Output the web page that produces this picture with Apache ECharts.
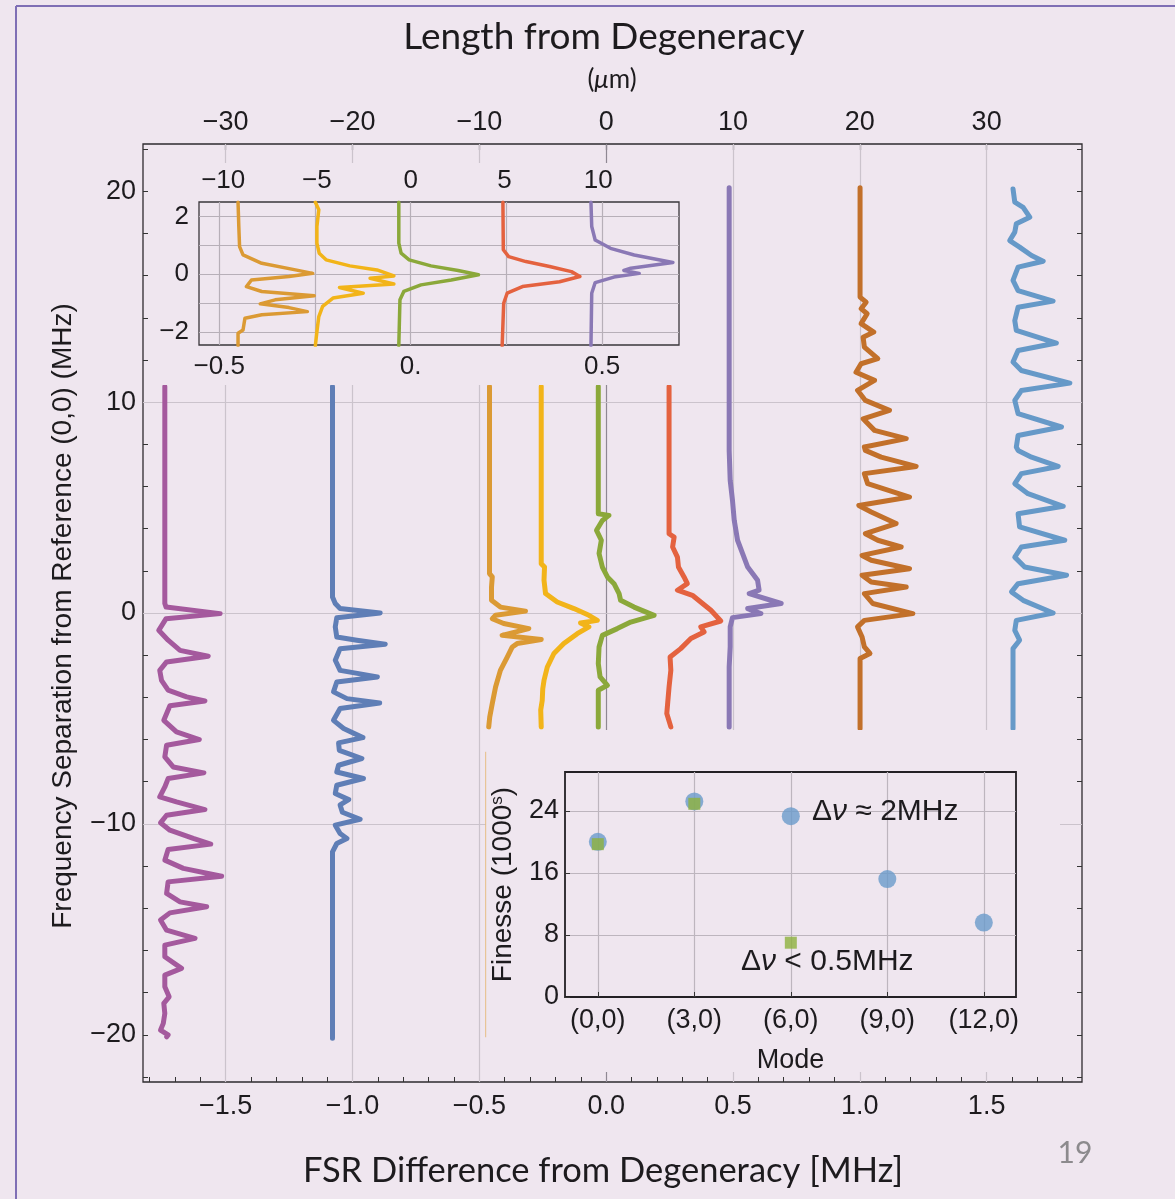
<!DOCTYPE html>
<html>
<head>
<meta charset="utf-8">
<script src="https://cdn.jsdelivr.net/npm/echarts@6/dist/echarts.min.js"></script>
<style>
  html, body { margin: 0; padding: 0; background: #efe6ef; }
  #chart { width: 1175px; height: 1199px; }
</style>
</head>
<body>
<div id="chart"></div>
<script>
// ---- data ----
// main panel traces: [FSR difference (MHz), frequency separation (MHz)]
var magentaTrace = [[-1.740,10.74],[-1.740,0.45],[-1.735,0.28],[-1.522,-0.03],[-1.735,-0.27],[-1.764,-0.82],[-1.727,-1.29],[-1.680,-1.77],[-1.569,-2.05],[-1.733,-2.32],[-1.760,-2.72],[-1.753,-3.19],[-1.727,-3.66],[-1.654,-3.98],[-1.582,-4.17],[-1.720,-4.40],[-1.744,-5.09],[-1.694,-5.64],[-1.604,-6.00],[-1.733,-6.27],[-1.740,-6.82],[-1.707,-7.30],[-1.586,-7.58],[-1.727,-7.85],[-1.740,-8.25],[-1.760,-8.72],[-1.694,-8.96],[-1.582,-9.32],[-1.733,-9.59],[-1.757,-9.95],[-1.720,-10.30],[-1.628,-10.69],[-1.559,-10.96],[-1.727,-11.21],[-1.740,-11.72],[-1.667,-12.11],[-1.516,-12.48],[-1.727,-12.75],[-1.733,-13.30],[-1.680,-13.70],[-1.575,-13.93],[-1.720,-14.22],[-1.757,-14.56],[-1.733,-15.04],[-1.621,-15.43],[-1.740,-15.75],[-1.740,-16.30],[-1.674,-16.85],[-1.740,-17.17],[-1.740,-17.72],[-1.723,-18.20],[-1.744,-18.51],[-1.740,-18.99],[-1.746,-19.46],[-1.757,-19.78],[-1.727,-20.01],[-1.733,-20.10]];
var blueTrace = [[-1.079,10.74],[-1.079,0.76],[-1.068,0.45],[-1.049,0.21],[-0.891,0.00],[-1.062,-0.22],[-1.068,-0.66],[-1.062,-1.14],[-0.983,-1.29],[-0.871,-1.48],[-1.049,-1.69],[-1.068,-2.24],[-1.049,-2.72],[-0.902,-3.03],[-1.062,-3.27],[-1.075,-3.74],[-1.022,-4.06],[-0.893,-4.27],[-1.049,-4.53],[-1.075,-5.09],[-1.035,-5.48],[-0.959,-5.91],[-1.055,-6.16],[-1.052,-6.51],[-0.963,-6.90],[-1.055,-7.22],[-1.062,-7.54],[-0.957,-7.85],[-1.062,-8.17],[-1.068,-8.56],[-1.015,-8.85],[-1.049,-9.10],[-1.040,-9.45],[-0.970,-9.78],[-1.068,-10.06],[-1.049,-10.46],[-1.022,-10.69],[-1.062,-10.93],[-1.079,-11.33],[-1.079,-20.17]];
var orangeTrace = [[-0.460,10.74],[-0.460,1.87],[-0.449,1.71],[-0.452,1.23],[-0.452,0.60],[-0.417,0.28],[-0.318,0.09],[-0.436,-0.11],[-0.449,-0.27],[-0.404,-0.50],[-0.305,-0.74],[-0.410,-1.06],[-0.256,-1.26],[-0.351,-1.45],[-0.370,-1.61],[-0.390,-2.09],[-0.417,-2.72],[-0.436,-3.51],[-0.449,-4.29],[-0.459,-4.93],[-0.463,-5.40]];
var yellowTrace = [[-0.256,10.74],[-0.256,2.34],[-0.243,2.18],[-0.245,1.55],[-0.239,0.92],[-0.193,0.52],[-0.127,0.21],[-0.068,-0.11],[-0.035,-0.35],[-0.101,-0.47],[-0.068,-0.66],[-0.114,-0.98],[-0.167,-1.45],[-0.206,-1.92],[-0.232,-2.56],[-0.245,-3.19],[-0.250,-3.60],[-0.252,-4.14],[-0.258,-4.60],[-0.256,-5.40]];
var greenTrace = [[-0.031,10.74],[-0.031,4.71],[0.011,4.63],[-0.015,4.39],[-0.038,3.92],[-0.019,3.45],[-0.028,2.82],[-0.015,2.18],[0.005,1.71],[0.031,1.39],[0.051,0.92],[0.057,0.60],[0.110,0.28],[0.189,-0.11],[0.097,-0.43],[0.044,-0.74],[-0.015,-1.06],[-0.028,-1.61],[-0.031,-2.40],[-0.024,-3.03],[0.005,-3.43],[-0.031,-3.66],[-0.031,-5.40]];
var redTrace = [[0.248,10.74],[0.248,3.76],[0.268,3.60],[0.262,3.13],[0.281,2.65],[0.285,2.18],[0.307,1.71],[0.320,1.39],[0.281,1.08],[0.340,0.84],[0.380,0.45],[0.413,0.13],[0.452,-0.38],[0.373,-0.66],[0.386,-0.90],[0.334,-1.21],[0.294,-1.69],[0.252,-2.09],[0.255,-2.72],[0.248,-3.51],[0.239,-4.77],[0.255,-5.40]];
var violetTrace = [[0.485,20.16],[0.485,7.70],[0.489,6.29],[0.498,5.34],[0.505,4.39],[0.518,3.45],[0.538,2.82],[0.558,2.18],[0.597,1.55],[0.603,1.08],[0.564,0.92],[0.690,0.45],[0.558,0.21],[0.610,-0.03],[0.498,-0.22],[0.489,-0.66],[0.489,-1.61],[0.485,-2.56],[0.485,-5.40]];
var brownTrace = [[1.001,20.16],[1.001,14.98],[1.025,14.74],[1.005,14.43],[1.029,14.19],[1.005,13.72],[1.055,13.32],[1.013,13.08],[1.018,12.61],[1.071,12.06],[1.005,11.82],[0.985,11.42],[1.058,11.03],[0.991,10.56],[1.022,10.08],[1.117,9.61],[1.013,9.21],[1.058,8.66],[1.183,8.27],[1.018,7.87],[1.022,7.71],[1.084,7.39],[1.222,6.95],[1.018,6.61],[1.031,6.13],[1.196,5.50],[0.996,5.10],[1.045,4.79],[1.143,4.24],[1.022,3.76],[1.071,3.45],[1.163,3.13],[1.009,2.73],[1.045,2.50],[1.196,2.10],[1.009,1.79],[1.045,1.47],[1.183,1.23],[1.018,0.92],[1.051,0.45],[1.209,-0.03],[1.018,-0.35],[0.991,-0.66],[1.009,-1.14],[1.018,-1.61],[1.040,-1.92],[1.001,-2.16],[1.001,-5.48]];
var skyTrace = [[1.604,20.11],[1.611,19.48],[1.644,19.24],[1.670,18.77],[1.617,18.46],[1.611,18.06],[1.591,17.66],[1.630,17.35],[1.677,16.95],[1.723,16.68],[1.624,16.40],[1.604,15.77],[1.624,15.29],[1.762,14.79],[1.624,14.50],[1.611,13.87],[1.617,13.40],[1.775,12.80],[1.624,12.45],[1.604,11.90],[1.637,11.50],[1.828,10.90],[1.637,10.55],[1.611,10.08],[1.624,9.45],[1.795,8.82],[1.624,8.42],[1.617,7.87],[1.624,7.71],[1.677,7.39],[1.782,6.95],[1.637,6.61],[1.611,6.13],[1.663,5.66],[1.802,5.06],[1.624,4.71],[1.630,4.08],[1.808,3.45],[1.637,3.13],[1.611,2.65],[1.650,2.18],[1.815,1.79],[1.624,1.39],[1.598,1.00],[1.644,0.60],[1.762,0.00],[1.617,-0.35],[1.611,-0.82],[1.630,-1.29],[1.604,-1.69],[1.604,-5.48]];
var orangeEdge = [[-0.475,-6.6],[-0.475,-20.1]];

// zoomed inset traces
var insetOrange = [[-0.451,2.50],[-0.449,1.66],[-0.447,0.96],[-0.438,0.67],[-0.389,0.38],[-0.301,0.15],[-0.256,0.03],[-0.318,-0.08],[-0.416,-0.20],[-0.429,-0.43],[-0.389,-0.60],[-0.252,-0.75],[-0.354,-0.89],[-0.393,-1.03],[-0.318,-1.16],[-0.270,-1.30],[-0.389,-1.41],[-0.433,-1.53],[-0.438,-1.94],[-0.451,-2.05],[-0.451,-2.48]];
var insetYellow = [[-0.249,2.50],[-0.240,2.24],[-0.245,1.66],[-0.245,1.08],[-0.239,0.73],[-0.221,0.50],[-0.159,0.29],[-0.088,0.15],[-0.044,-0.06],[-0.106,-0.14],[-0.044,-0.34],[-0.186,-0.46],[-0.124,-0.66],[-0.203,-0.83],[-0.230,-1.12],[-0.240,-1.47],[-0.245,-2.00],[-0.249,-2.48]];
var insetGreen = [[-0.031,2.50],[-0.031,1.08],[-0.025,0.73],[-0.004,0.50],[0.053,0.29],[0.124,0.13],[0.177,-0.02],[0.106,-0.20],[0.027,-0.37],[-0.018,-0.60],[-0.028,-0.89],[-0.031,-2.48]];
var insetRed = [[0.241,2.50],[0.242,0.85],[0.256,0.61],[0.301,0.44],[0.363,0.27],[0.420,0.09],[0.442,-0.08],[0.389,-0.26],[0.292,-0.43],[0.252,-0.66],[0.243,-1.01],[0.239,-2.48]];
var insetViolet = [[0.471,2.50],[0.473,1.66],[0.482,1.19],[0.522,0.90],[0.584,0.67],[0.685,0.41],[0.575,0.21],[0.557,0.13],[0.597,0.03],[0.531,-0.10],[0.482,-0.29],[0.473,-0.66],[0.471,-2.48]];

// finesse inset
var modeValues = [0, 3, 6, 9, 12];
var modeLabels = ['(0,0)', '(3,0)', '(6,0)', '(9,0)', '(12,0)'];
var finesseWide = [20.0, 25.2, 23.3, 15.2, 9.6];
var narrowModes = [0, 3, 6];
var finesseNarrow = [19.7, 24.9, 7.0];

// ticks and grid lines
var mainXTicks = [-1.5, -1, -0.5, 0, 0.5, 1, 1.5];
var mainYTicks = [-20, -10, 0, 10, 20];
var lengthTicks = [-30, -20, -10, 0, 10, 20, 30];
var mainYGrid = [-10, 0, 10];
var insetXTicks = [-0.5, 0, 0.5];
var insetXTickText = ['\u22120.5', '0.', '0.5'];
var insetYTicks = [-2, 0, 2];
var insetLengthTicks = [-10, -5, 0, 5, 10];
var insetXGrid = [-0.5, -0.25, 0, 0.25, 0.5];
var insetYGrid = [-2, -1, 0, 1, 2];
var finesseTicks = [0, 8, 16, 24];
var finesseYGrid = [8, 16, 24];

var BG = '#efe6ef';
var INK = '#1d1b1e';
var SANS = '"Liberation Sans", Arial, sans-serif';
var TITLE = 'Lato, "Open Sans", sans-serif';

function steps(a, b, s) {
  var out = [];
  for (var v = a; v <= b + 1e-9; v += s) out.push(Math.round(v * 1000) / 1000);
  return out;
}
function minus(v, d) {
  return (v < 0 ? '\u2212' : '') + Math.abs(v).toFixed(d);
}

var chart = echarts.init(document.getElementById('chart'));

function trace(data, color, width, xi, yi, z) {
  return {
    type: 'line', data: data, xAxisIndex: xi, yAxisIndex: yi, z: z,
    showSymbol: false, symbol: 'none', silent: true, clip: true,
    lineStyle: { color: color, width: width, join: 'round', cap: 'round' }
  };
}
function gridLines(xs, ys, xi, yi, color, z, special) {
  var items = [];
  xs.forEach(function(v) {
    var it = { xAxis: v };
    if (special && v === 0) it.lineStyle = { color: special };
    items.push(it);
  });
  ys.forEach(function(v) { items.push({ yAxis: v }); });
  return {
    type: 'line', data: [], xAxisIndex: xi, yAxisIndex: yi, z: z, silent: true,
    markLine: {
      z: z, silent: true, symbol: ['none', 'none'], label: { show: false },
      lineStyle: { color: color, width: 1.2, type: 'solid' },
      data: items, animation: false
    }
  };
}

var tickLabel = function(size) {
  return { fontFamily: SANS, fontSize: size, color: INK };
};
var noLine = { show: false, onZero: false };
var richText = function(text, size) {
  return {
    text: text, fill: INK, align: 'left', verticalAlign: 'middle', textAlign: 'left', textVerticalAlign: 'middle',
    fontFamily: SANS, fontSize: size,
    rich: { n: { fontFamily: SANS, fontSize: size, fill: INK }, i: { fontFamily: SANS, fontSize: size, fontStyle: 'italic', fill: INK } }
  };
};

var option = {
  backgroundColor: BG,
  animation: false,
  grid: [
    { left: 143, top: 144, width: 939, height: 938, show: true, borderColor: '#2e2b2f', borderWidth: 1.3, backgroundColor: 'transparent', z: 0 },
    { left: 199, top: 202, width: 480, height: 143, show: true, borderColor: '#3a373b', borderWidth: 1.3, backgroundColor: 'transparent', z: 4 },
    { left: 565, top: 772, width: 451, height: 225, show: true, borderColor: '#232024', borderWidth: 1.8, backgroundColor: 'transparent', z: 4 }
  ],
  xAxis: [
    { type: 'value', gridIndex: 0, position: 'bottom', min: -1.826, max: 1.876,
      axisLine: noLine, splitLine: { show: false },
      axisTick: { show: true, inside: true, length: 5, customValues: steps(-1.8, 1.8, 0.1), lineStyle: { color: '#333', width: 1 } },
      axisLabel: Object.assign({ customValues: mainXTicks, margin: 11, formatter: function(v) { return minus(v, 1); } }, tickLabel(27)) },
    { type: 'value', gridIndex: 0, position: 'top', min: -36.52, max: 37.52,
      axisLine: noLine, splitLine: { show: false },
      axisTick: { show: true, inside: true, length: 6, customValues: lengthTicks, lineStyle: { color: '#333', width: 1.2 } },
      axisLabel: Object.assign({ customValues: lengthTicks, margin: 8, formatter: function(v) { return minus(v, 0); } }, tickLabel(27)) },
    { type: 'value', gridIndex: 1, position: 'bottom', min: -0.553, max: 0.701, z: 5,
      axisLine: noLine, splitLine: { show: false }, axisTick: { show: false },
      axisLabel: Object.assign({ customValues: insetXTicks, margin: 9,
        formatter: function(v) { return insetXTickText[insetXTicks.indexOf(v)]; } }, tickLabel(26)) },
    { type: 'value', gridIndex: 1, position: 'top', min: -11.29, max: 14.31, z: 5,
      axisLine: noLine, splitLine: { show: false }, axisTick: { show: false },
      axisLabel: Object.assign({ customValues: insetLengthTicks, margin: 8, formatter: function(v) { return minus(v, 0); } }, tickLabel(26)) },
    { type: 'value', gridIndex: 2, position: 'bottom', min: -1.02, max: 13, z: 5,
      axisLine: noLine, splitLine: { show: false },
      axisTick: { show: true, inside: true, length: 5, customValues: modeValues, lineStyle: { color: '#333' } },
      axisLabel: Object.assign({ customValues: modeValues, margin: 10,
        formatter: function(v) { return modeLabels[modeValues.indexOf(v)]; } }, tickLabel(27)),
      name: 'Mode', nameLocation: 'middle', nameGap: 50,
      nameTextStyle: { fontFamily: SANS, fontSize: 27, color: INK } }
  ],
  yAxis: [
    { type: 'value', gridIndex: 0, position: 'left', min: -22.24, max: 22.24,
      axisLine: noLine, splitLine: { show: false },
      axisTick: { show: true, inside: true, length: 5, customValues: steps(-22, 22, 2), lineStyle: { color: '#333', width: 1 } },
      axisLabel: Object.assign({ customValues: mainYTicks, margin: 7, formatter: function(v) { return minus(v, 0); } }, tickLabel(27)) },
    { type: 'value', gridIndex: 0, position: 'right', min: -22.24, max: 22.24,
      axisLine: noLine, splitLine: { show: false },
      axisTick: { show: true, inside: true, length: 5, customValues: steps(-22, 22, 2), lineStyle: { color: '#333', width: 1 } },
      axisLabel: { show: false } },
    { type: 'value', gridIndex: 1, position: 'left', min: -2.46, max: 2.51, z: 5,
      axisLine: noLine, splitLine: { show: false }, axisTick: { show: false },
      axisLabel: Object.assign({ customValues: insetYTicks, margin: 10, formatter: function(v) { return minus(v, 0); } }, tickLabel(26)) },
    { type: 'value', gridIndex: 2, position: 'left', min: 0, max: 29, z: 5,
      axisLine: noLine, splitLine: { show: false },
      axisTick: { show: true, inside: true, length: 5, customValues: finesseTicks, lineStyle: { color: '#333' } },
      axisLabel: Object.assign({ customValues: finesseTicks, margin: 6 }, tickLabel(27)),
      name: 'Finesse (1000{s|s})', nameLocation: 'middle', nameGap: 47,
      nameTextStyle: { fontFamily: SANS, fontSize: 28, color: INK,
        rich: { s: { fontFamily: SANS, fontSize: 17, color: INK, verticalAlign: 'top', padding: [0, 0, 12, 0] } } } }
  ],
  series: [
    gridLines([-1.5, -1, -0.5, 0, 0.5, 1, 1.5], mainYGrid, 0, 0, '#cbc3cc', 1, '#8f8893'),
    trace(magentaTrace, '#a4599d', 5, 0, 0, 2),
    trace(blueTrace, '#5f7eb6', 5, 0, 0, 2),
    trace(orangeTrace, '#db9a34', 5, 0, 0, 2),
    trace(yellowTrace, '#f2b419', 5, 0, 0, 2),
    trace(greenTrace, '#8ba83a', 5, 0, 0, 2),
    trace(redTrace, '#e4623f', 5, 0, 0, 2),
    trace(violetTrace, '#8a78b5', 5, 0, 0, 2),
    trace(brownTrace, '#c2702a', 5, 0, 0, 2),
    trace(skyTrace, '#6699c8', 5, 0, 0, 2),
    trace(orangeEdge, '#e6bd84', 1, 0, 0, 4),
    gridLines(insetXGrid, insetYGrid, 2, 2, '#b7afb8', 5),
    trace(insetOrange, '#db9a34', 3.5, 2, 2, 6),
    trace(insetYellow, '#f2b419', 3.5, 2, 2, 6),
    trace(insetGreen, '#8ba83a', 3.5, 2, 2, 6),
    trace(insetRed, '#e4623f', 3.5, 2, 2, 6),
    trace(insetViolet, '#8a78b5', 3.5, 2, 2, 6),
    gridLines(modeValues, finesseYGrid, 4, 3, '#bdb5be', 5),
    { type: 'scatter', xAxisIndex: 4, yAxisIndex: 3, z: 6, silent: true,
      symbol: 'circle', symbolSize: 18, itemStyle: { color: '#6a9bca' },
      data: modeValues.map(function(m, i) { return [m, finesseWide[i]]; }) },
    { type: 'scatter', xAxisIndex: 4, yAxisIndex: 3, z: 7, silent: true,
      symbol: 'rect', symbolSize: 12, itemStyle: { color: '#8db13d' },
      data: narrowModes.map(function(m, i) { return [m, finesseNarrow[i]]; }) }
  ],
  graphic: [
    { type: 'rect', z: 3, silent: true, shape: { x: 150, y: 163, width: 548, height: 222 }, style: { fill: BG } },
    { type: 'rect', z: 3, silent: true, shape: { x: 486, y: 730, width: 574, height: 342 }, style: { fill: BG } },
    { type: 'line', z: 10, silent: true, shape: { x1: 16, y1: 6, x2: 16, y2: 1199 }, style: { stroke: '#7f6fb5', lineWidth: 2 } },
    { type: 'line', z: 10, silent: true, shape: { x1: 16, y1: 6, x2: 1175, y2: 6 }, style: { stroke: '#7f6fb5', lineWidth: 2 } },
    { type: 'text', z: 10, x: 604, y: 37, silent: true,
      style: { text: 'Length from Degeneracy', fontFamily: TITLE, fontSize: 37, fill: INK, align: 'center', verticalAlign: 'middle', textAlign: 'center', textVerticalAlign: 'middle' } },
    { type: 'text', z: 10, x: 612, y: 80, silent: true,
      style: { text: '({i|\u03bc}{n|m)}', fill: INK, align: 'center', verticalAlign: 'middle', textAlign: 'center', textVerticalAlign: 'middle',
        fontFamily: TITLE, fontSize: 26,
        rich: { i: { fontFamily: TITLE, fontSize: 26, fontStyle: 'italic', fill: INK }, n: { fontFamily: TITLE, fontSize: 26, fill: INK } } } },
    { type: 'text', z: 10, x: 603, y: 1171, silent: true,
      style: { text: 'FSR Difference from Degeneracy [MHz]', fontFamily: TITLE, fontSize: 34.5, fill: INK, align: 'center', verticalAlign: 'middle', textAlign: 'center', textVerticalAlign: 'middle' } },
    { type: 'text', z: 10, x: 1075, y: 1153, silent: true,
      style: { text: '19', fontFamily: TITLE, fontSize: 30, fill: '#8c8a8d', align: 'center', verticalAlign: 'middle', textAlign: 'center', textVerticalAlign: 'middle' } },
    { type: 'text', z: 10, x: 63, y: 616, rotation: Math.PI / 2, silent: true,
      style: { text: 'Frequency Separation from Reference (0,0) (MHz)', fontFamily: SANS, fontSize: 28, fill: INK, align: 'center', verticalAlign: 'middle', textAlign: 'center', textVerticalAlign: 'middle' } },
    { type: 'text', z: 10, x: 812, y: 812, silent: true, style: richText('{n|\u0394}{i|\u03bd}{n| \u2248 2MHz}', 30) },
    { type: 'text', z: 10, x: 741, y: 962, silent: true, style: richText('{n|\u0394}{i|\u03bd}{n| < 0.5MHz}', 30) }
  ]
};

chart.setOption(option);
</script>
</body>
</html>
